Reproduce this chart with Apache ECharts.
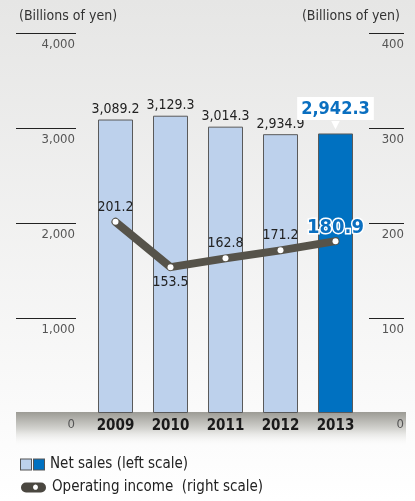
<!DOCTYPE html>
<html>
<head>
<meta charset="utf-8">
<script src="https://cdn.jsdelivr.net/npm/echarts@6/dist/echarts.min.js"></script>
<style>
    html, body { margin: 0; padding: 0; }
    #chart { width: 415px; height: 501px; }
</style>
</head>
<body>
<div id="chart"></div>
<script>
// 年度
const years = ['2009', '2010', '2011', '2012', '2013']
// 売上高（左軸）
const netSales = [3089.2, 3129.3, 3014.3, 2934.9, 2942.3]
// 営業利益（右軸）
const operatingIncome = [201.2, 153.5, 162.8, 171.2, 180.9]
// 目盛り
const leftTicks = [0, 1000, 2000, 3000, 4000]
const rightTicks = [0, 100, 200, 300, 400]

const FONT = "'Liberation Sans Narrow', 'DejaVu Sans Condensed', 'Noto Sans', sans-serif"
const fmt = v => v.toLocaleString('en-US', { minimumFractionDigits: 1 })
const fmtTick = v => v.toLocaleString('en-US')

let myChart = echarts.init(document.getElementById('chart'))

const last = netSales.length - 1
const barData = netSales.map((v, i) => {
    if (i !== last) return v
    // 最新年度は濃い青＋吹き出しラベル
    return {
        value: v,
        itemStyle: { color: '#0071c1' },
        label: {
            distance: 4,
            formatter: p => '{a|' + fmt(p.value) + '}\n{t|▼}',
            rich: {
                a: {
                    fontSize: 18, fontWeight: 'bold', color: '#0a6fc0', fontFamily: FONT,
                    backgroundColor: '#fff', padding: [3, 4, 2, 4], lineHeight: 24
                },
                t: { fontSize: 11, color: '#fff', lineHeight: 9, align: 'center', fontFamily: "'DejaVu Sans'" }
            }
        }
    }
})

const lineData = operatingIncome.map((v, i) => {
    if (i === 1) return { value: v, label: { position: 'bottom', distance: 5 } }
    if (i === last) {
        return {
            value: v,
            label: {
                distance: 0, fontSize: 20, fontWeight: 'bold', color: '#0a6fc0',
                textBorderColor: '#fff', textBorderWidth: 3
            }
        }
    }
    return v
})

myChart.setOption({
    backgroundColor: new echarts.graphic.LinearGradient(0, 0, 0, 1, [
        { offset: 0, color: '#e6e6e5' },
        { offset: 0.85, color: '#fbfbfb' },
        { offset: 1, color: '#ffffff' }
    ]),
    textStyle: { fontFamily: FONT },
    title: [
        { text: '(Billions of yen)', left: 14, top: 4, textStyle: { fontSize: 14, fontWeight: 'normal', color: '#333', fontFamily: FONT } },
        { text: '(Billions of yen)', right: 10, top: 4, textStyle: { fontSize: 14, fontWeight: 'normal', color: '#333', fontFamily: FONT } }
    ],
    // 下部のグレーの帯
    graphic: [{
        type: 'rect',
        z: -1,
        shape: { x: 16, y: 412, width: 390, height: 34 },
        style: {
            fill: new echarts.graphic.LinearGradient(0, 0, 0, 1, [
                { offset: 0, color: '#9c9b95' },
                { offset: 0.5, color: '#d4d4d0' },
                { offset: 1, color: 'rgba(250,250,250,0)' }
            ])
        }
    }],
    grid: { left: 88, right: 52, top: 33, bottom: 88 },
    legend: {
        orient: 'vertical',
        left: 11,
        top: 452,
        itemWidth: 0,
        itemHeight: 0,
        itemGap: 8,
        selectedMode: false,
        data: [
            { name: 'Net sales (left scale)', icon: 'none' },
            { name: 'Operating income  (right scale)', icon: 'none' }
        ],
        formatter: name => name.indexOf('Net') === 0
            ? '{s1|}{g|}{s2|}{g2|}' + name
            : '{p|●}{g2|}' + name,
        textStyle: {
            fontSize: 15, color: '#222', fontFamily: FONT,
            rich: {
                s1: { width: 10, height: 10, backgroundColor: '#bdd1ec', borderColor: '#555', borderWidth: 1 },
                g: { width: 3 },
                s2: { width: 10, height: 10, backgroundColor: '#0071c1', borderColor: '#555', borderWidth: 1 },
                g2: { width: 6 },
                p: {
                    width: 21, height: 10, backgroundColor: '#4a4740', borderRadius: 5,
                    color: '#fff', fontSize: 7, align: 'center', lineHeight: 10, padding: [0, 0, 0, 4]
                }
            }
        }
    },
    xAxis: {
        type: 'category',
        data: years,
        axisLine: { show: false },
        axisTick: { show: false },
        axisLabel: { margin: 6, fontSize: 15, fontWeight: 'bold', color: '#1a1a1a', fontFamily: FONT }
    },
    yAxis: [
        {
            type: 'value',
            min: 0, max: 4000, interval: 1000,
            position: 'left',
            offset: 12,
            axisLine: { show: false },
            splitLine: { show: false },
            axisTick: {
                show: true, length: 60,
                customValues: leftTicks.slice(1),
                lineStyle: { color: '#222', width: 1 }
            },
            axisLabel: {
                customValues: leftTicks,
                margin: 1, verticalAlign: 'top', padding: [5, 0, 0, 0],
                fontSize: 13, color: '#555', fontFamily: FONT,
                formatter: v => fmtTick(v)
            }
        },
        {
            type: 'value',
            min: 0, max: 400, interval: 100,
            position: 'right',
            offset: 6,
            axisLine: { show: false },
            splitLine: { show: false },
            axisTick: {
                show: true, length: 35,
                customValues: rightTicks.slice(1),
                lineStyle: { color: '#222', width: 1 }
            },
            axisLabel: {
                customValues: rightTicks,
                margin: 35, align: 'right', verticalAlign: 'top', padding: [5, 0, 0, 0],
                fontSize: 13, color: '#555', fontFamily: FONT
            }
        }
    ],
    series: [
        {
            name: 'Net sales (left scale)',
            type: 'bar',
            barWidth: 35,
            data: barData,
            itemStyle: { color: '#bdd1ec', borderColor: '#5a5a5a', borderWidth: 1 },
            label: {
                show: true, position: 'top', distance: 3,
                fontSize: 14, color: '#222', fontFamily: FONT,
                formatter: p => fmt(p.value)
            }
        },
        {
            name: 'Operating income  (right scale)',
            type: 'line',
            yAxisIndex: 1,
            data: lineData,
            z: 5,
            color: '#4e4b43',
            lineStyle: { color: '#56534a', width: 8, cap: 'round', join: 'round' },
            symbol: 'circle',
            symbolSize: 6,
            itemStyle: { color: '#fff', borderWidth: 0 },
            label: {
                show: true, position: 'top', distance: 5,
                fontSize: 14, color: '#222', fontFamily: FONT,
                formatter: p => fmt(p.value)
            }
        }
    ]
})

window.addEventListener('resize', function () {
    myChart.resize()
})
</script>
</body>
</html>
